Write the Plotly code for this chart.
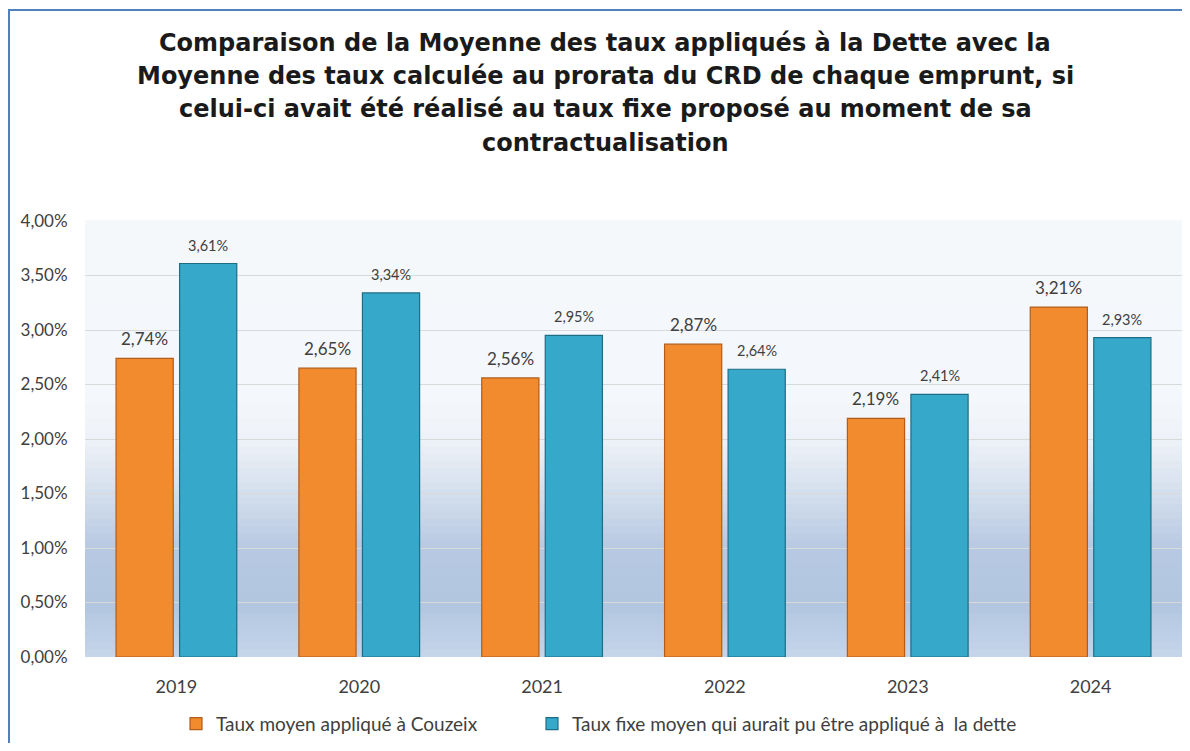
import plotly.graph_objects as go

years = ["2019", "2020", "2021", "2022", "2023", "2024"]
taux_couzeix = [2.74, 2.65, 2.56, 2.87, 2.19, 3.21]
taux_fixe = [3.61, 3.34, 2.95, 2.64, 2.41, 2.93]
serie_names = ["Taux moyen appliqué à Couzeix",
               "Taux fixe moyen qui aurait pu être appliqué à  la dette"]
y_ticks = [0, 0.5, 1.0, 1.5, 2.0, 2.5, 3.0, 3.5, 4.0]

title_lines = [
    "Comparaison de la Moyenne des taux appliqués à la Dette avec la",
    "Moyenne des taux calculée au prorata du CRD de chaque emprunt, si",
    "celui-ci avait été réalisé au taux fixe proposé au moment de sa",
    "contractualisation",
]

# page has an 8px body margin on every side; figure sized so nothing overflows
OFF = 8
W, H = 1190 - 2 * OFF, 751 - 2 * OFF
ML, MR, MT = 85 - OFF, 0, 221 - OFF
MB = H - (659 - OFF)
PW, PH = W - ML - MR, H - MT - MB

ORANGE = "#F18B2D"
BLUE = "#36A9CA"
TXT = "#404040"
BARGAP = 0.305
GROUPGAP = 0.1

def fmt(v):
    return f"{v:.2f}".replace(".", ",") + "%"

def px_x(p):  # page pixel -> paper x
    return (p - OFF - ML) / PW

def px_y(p):  # page pixel -> paper y
    return (H - MB - (p - OFF)) / PH

fig = go.Figure()
fig.add_trace(go.Bar(
    x=years, y=[v / 100 for v in taux_couzeix], name=serie_names[0],
    marker=dict(color=ORANGE, line=dict(color="#B35C1B", width=1.2)),
    legend="legend",
))
fig.add_trace(go.Bar(
    x=years, y=[v / 100 for v in taux_fixe], name=serie_names[1],
    marker=dict(color=BLUE, line=dict(color="#1D6D86", width=1.2)),
    legend="legend2",
))

# data labels
slot = (1 - BARGAP) / 2
annotations = []
for i, (a, b) in enumerate(zip(taux_couzeix, taux_fixe)):
    annotations.append(dict(x=i - slot / 2, y=a / 100, xref="x", yref="y", text=fmt(a),
                            showarrow=False, yanchor="bottom", yshift=7,
                            font=dict(family="Lato", size=17, color=TXT)))
    annotations.append(dict(x=i + slot / 2, y=b / 100, xref="x", yref="y", text=fmt(b),
                            showarrow=False, yanchor="bottom", yshift=8,
                            font=dict(family="Lato", size=14.5, color=TXT)))

# title lines
for k, line in enumerate(title_lines):
    annotations.append(dict(x=px_x(605), y=px_y(52 + 33.5 * k), xref="paper", yref="paper",
                            text="<b>" + line + "</b>", showarrow=False,
                            xanchor="center", yanchor="bottom", yshift=-6,
                            font=dict(family="DejaVu Sans", size=24, color="#1a1a1a")))

# background gradient strips (plot area)
def lerp(c1, c2, t):
    return tuple(round(c1[j] + (c2[j] - c1[j]) * t) for j in range(3))

stops = [(0.0, (197, 213, 234)), (0.12, (178, 198, 224)), (0.25, (183, 201, 226)),
         (0.38, (213, 224, 237)), (0.5, (238, 242, 248)), (0.6, (244, 247, 251)),
         (1.0, (245, 248, 251))]
shapes = []
N = 60
for s in range(N):
    y0, y1 = s / N, (s + 1) / N
    ym = (y0 + y1) / 2
    for j in range(len(stops) - 1):
        if stops[j][0] <= ym <= stops[j + 1][0]:
            t = (ym - stops[j][0]) / (stops[j + 1][0] - stops[j][0])
            c = lerp(stops[j][1], stops[j + 1][1], t)
            break
    shapes.append(dict(type="rect", xref="x domain", yref="y domain", x0=0, x1=1,
                       y0=y0, y1=y1 + 0.002, fillcolor="rgb(%d,%d,%d)" % c,
                       line=dict(width=0), layer="below"))

# outer chart border: left and top edges
border = dict(color="#4F81BD", width=2)
shapes.append(dict(type="line", xref="paper", yref="paper",
                   x0=px_x(9), x1=px_x(9), y0=px_y(751), y1=px_y(8), line=border, layer="above"))
shapes.append(dict(type="line", xref="paper", yref="paper",
                   x0=px_x(8), x1=px_x(1182), y0=px_y(9), y1=px_y(9), line=border, layer="above"))

legend_common = dict(orientation="h", xanchor="left", yanchor="middle",
                     font=dict(family="Lato", size=19, color=TXT),
                     bgcolor="rgba(0,0,0,0)")

fig.update_layout(
    width=W, height=H,
    margin=dict(l=ML, r=MR, t=MT, b=MB),
    paper_bgcolor="white",
    plot_bgcolor="rgba(0,0,0,0)",
    separators=", ",
    barmode="group", bargap=BARGAP, bargroupgap=GROUPGAP,
    showlegend=True,
    legend=dict(x=px_x(176), y=px_y(726), **legend_common),
    legend2=dict(x=px_x(532), y=px_y(726), **legend_common),
    annotations=annotations,
    shapes=shapes,
    xaxis=dict(tickfont=dict(family="Lato", size=18, color=TXT), ticks="outside",
               ticklen=13, tickcolor="rgba(0,0,0,0)", showline=False, showgrid=False),
    yaxis=dict(range=[0, 0.04], tickvals=[v / 100 for v in y_ticks], tickformat=".2%",
               tickfont=dict(family="Lato", size=17, color=TXT), ticks="outside",
               ticklen=13, tickcolor="rgba(0,0,0,0)",
               showgrid=True, gridcolor="#D9D9D9", gridwidth=1, zeroline=False,
               showline=False),
)

fig.write_html("out.html")
